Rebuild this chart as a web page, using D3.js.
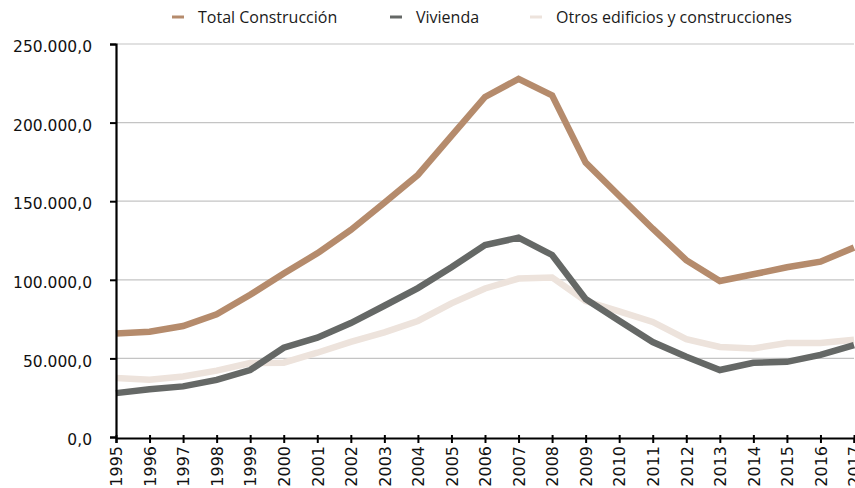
<!DOCTYPE html>
<html>
<head>
<meta charset="utf-8">
<script src="https://cdn.jsdelivr.net/npm/d3@7"></script>
<style>
  body { margin: 0; background: #fff; }
  svg { display: block; }
</style>
</head>
<body>
<div id="chart"></div>
<script>
// Data
const years = [1995, 1996, 1997, 1998, 1999, 2000, 2001, 2002, 2003, 2004, 2005, 2006,
               2007, 2008, 2009, 2010, 2011, 2012, 2013, 2014, 2015, 2016, 2017];
const totalConstruccion = [65800, 67000, 70600, 78000, 90500, 104000, 116800, 131700, 149000, 166700, 191500, 216300,
                           227800, 217300, 174500, 153500, 132500, 112500, 99200, 103500, 108000, 111500, 120500];
const vivienda = [27900, 30400, 32200, 36300, 42600, 56800, 63200, 72500, 83500, 94700, 108000, 122100,
                  126800, 115800, 87800, 74000, 60400, 51000, 42600, 47200, 47800, 52200, 58500];
const otros = [37600, 36500, 38500, 42200, 47000, 47300, 53600, 60500, 66600, 73800, 85000, 94500,
               100800, 101500, 86500, 79900, 73200, 62300, 57300, 56300, 59800, 59800, 61800];
const yTickValues = [0, 50000, 100000, 150000, 200000, 250000];
const seriesNames = ["Total Construcción", "Vivienda", "Otros edificios y construcciones"];

const colors = {
  "Total Construcción": "#b58b6c",
  "Vivienda": "#656866",
  "Otros edificios y construcciones": "#ede3dc"
};

const W = 855, H = 488;
const margin = { top: 44, right: 1, bottom: 51, left: 116 };
const width = W - margin.left - margin.right;
const height = H - margin.top - margin.bottom;

const svg = d3.select("#chart").append("svg")
  .attr("width", W)
  .attr("height", H);

const g = svg.append("g")
  .attr("transform", `translate(${margin.left},${margin.top})`);

const x = d3.scalePoint().domain(years).range([0, width]);
const y = d3.scaleLinear().domain([0, 250000]).range([height, 0]);

// 250000 -> "250.000,0"
const fmt = d => d3.format(",.1f")(d).replace(/,/g, "#").replace(".", ",").replace(/#/g, ".");

// Grid lines
g.selectAll(".grid")
  .data(yTickValues.filter(d => d > 0))
  .enter().append("line")
  .attr("x1", 0).attr("x2", width)
  .attr("y1", d => y(d)).attr("y2", d => y(d))
  .attr("stroke", "#c4c4c4")
  .attr("stroke-width", 1.2);

// Lines
const line = d3.line()
  .x((d, i) => x(years[i]))
  .y(d => y(d));

const drawOrder = [
  ["Otros edificios y construcciones", otros],
  ["Vivienda", vivienda],
  ["Total Construcción", totalConstruccion]
];
drawOrder.forEach(([name, vals]) => {
  g.append("path")
    .datum(vals)
    .attr("fill", "none")
    .attr("stroke", colors[name])
    .attr("stroke-width", 6.5)
    .attr("stroke-linejoin", "miter")
    .attr("d", line);
});

// Y axis
const yAxis = g.append("g")
  .call(d3.axisLeft(y).tickValues(yTickValues).tickFormat(fmt).tickSize(6).tickPadding(18));
yAxis.select(".domain").attr("stroke", "#000").attr("stroke-width", 2.2);
yAxis.selectAll(".tick line").attr("stroke", "#000").attr("stroke-width", 2);
yAxis.selectAll("text")
  .attr("fill", "#111")
  .style("font-family", "DejaVu Sans, sans-serif")
  .style("font-size", "15.5px")
  .attr("dy", "0.5em");

// X axis
const xAxis = g.append("g")
  .attr("transform", `translate(0,${height + 1})`)
  .call(d3.axisBottom(x).tickSize(5));
xAxis.select(".domain").attr("stroke", "#000").attr("stroke-width", 2.2);
xAxis.selectAll(".tick line").attr("stroke", "#000").attr("stroke-width", 2).attr("y1", -3);
xAxis.selectAll("text")
  .attr("fill", "#111")
  .style("font-family", "DejaVu Sans, sans-serif")
  .style("font-size", "16px")
  .attr("transform", "rotate(-90)")
  .attr("text-anchor", "end")
  .attr("x", -8)
  .attr("y", 0)
  .attr("dy", "0.36em");

// Legend
const legendPos = [172, 390, 530];
const legend = svg.append("g");
seriesNames.forEach((name, i) => {
  const lg = legend.append("g").attr("transform", `translate(${legendPos[i]},17)`);
  lg.append("line")
    .attr("x1", 0).attr("x2", 12)
    .attr("stroke", colors[name])
    .attr("stroke-width", 3);
  lg.append("text")
    .attr("x", 26)
    .attr("dy", "0.35em")
    .attr("fill", "#1a1a1a")
    .style("font-family", "Open Sans, sans-serif")
    .style("font-size", "16px")
    .text(name);
});
</script>
</body>
</html>
